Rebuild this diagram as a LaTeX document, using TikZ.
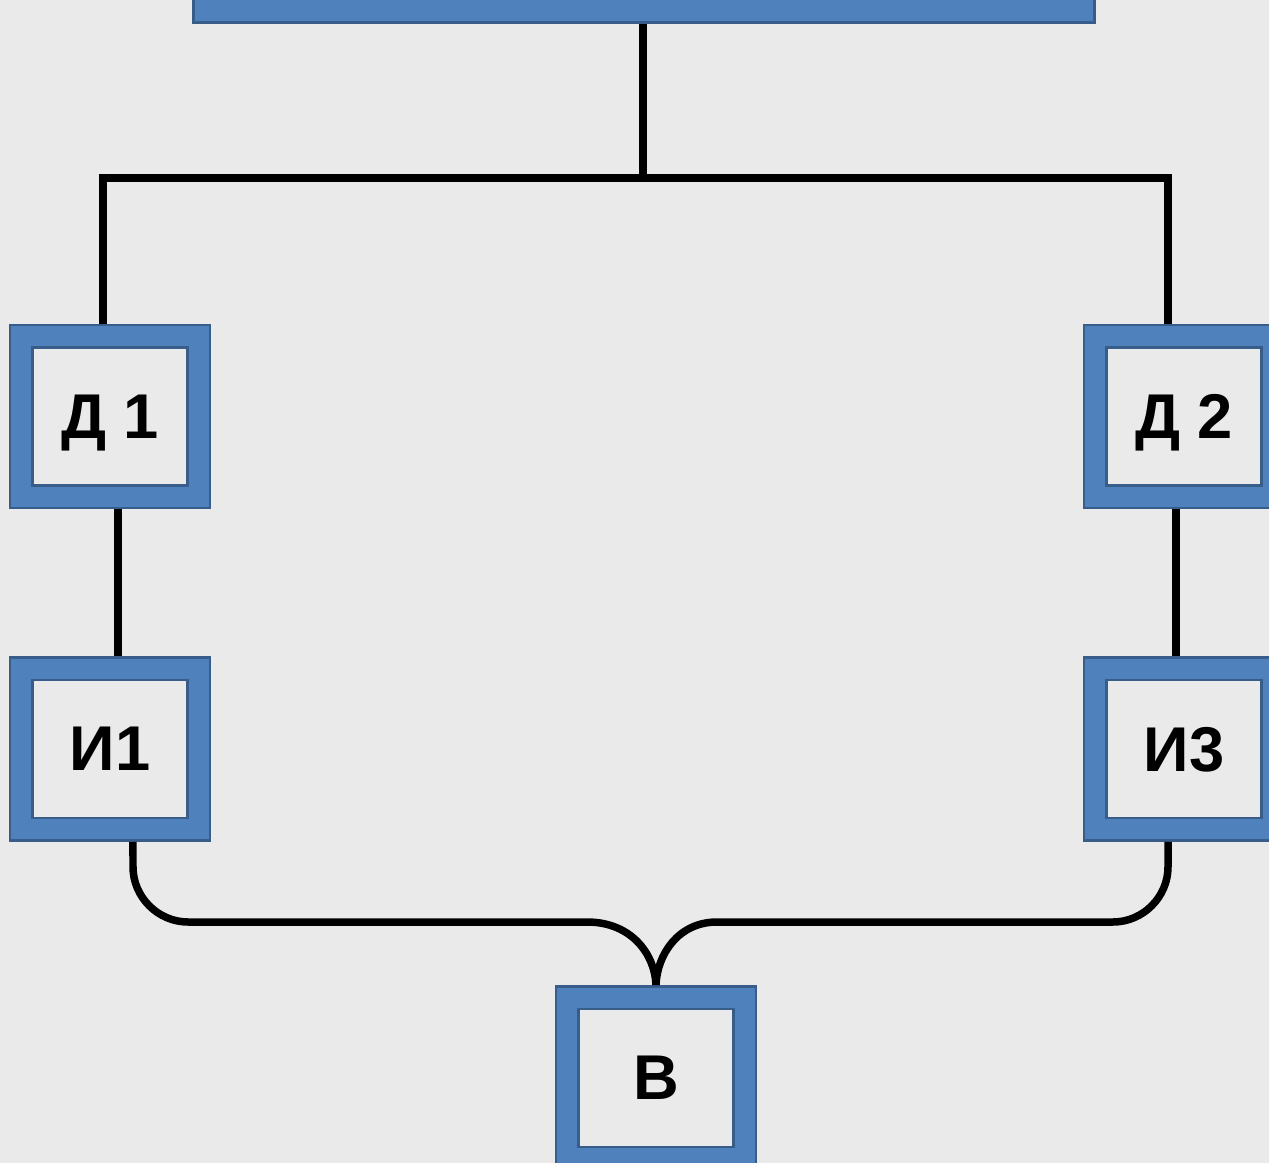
\documentclass[tikz,border=0pt]{standalone}
\usepackage{fontspec}
\setmainfont{Liberation Sans}
\usetikzlibrary{positioning}
\definecolor{boxblue}{HTML}{4F81BD}
\definecolor{boxedge}{HTML}{385D8A}
\definecolor{paper}{HTML}{EAEAEA}
\tikzset{
    frame box/.style={rectangle, draw=boxblue, line width=0.40cm,
        preaction={draw=boxedge, line width=0.50cm},
        minimum width=3.56cm, minimum height=3.22cm, inner sep=0pt, outer sep=0.25cm,
        text depth=0pt, font=\fontsize{36}{40}\selectfont\bfseries},
    head box/.style={rectangle, fill=boxblue, draw=boxedge, line width=0.06cm,
        minimum width=18.04cm, minimum height=1.72cm, outer sep=0.03cm},
    wire/.style={draw, black, line width=0.15cm}
}
\begin{document}
\begin{tikzpicture}[x=0.02cm, y=-0.02cm]
	\useasboundingbox (0,0) rectangle (1269,1163);
	\clip (0,0) rectangle (1269,1163);
	\fill[paper] (0,0) rectangle (1269,1163);

	% boxes
	\node[head box] (head) at (644,-20) {};
	\node[frame box] (D1) at (110,416.5) {Д 1};
	\node[frame box] (D2) at (1184,416.5) {Д 2};
	\node[frame box] (I1) at (110,749) {И1};
	\node[frame box] (I3) at (1184,749) {И3};
	\node[frame box] (V) at (656,1078) {В};
	\coordinate (split) at (643,178);

	% connectors
	\draw[wire] (head.south -| split) -- (split);
	\draw[wire] ([xshift=-0.14cm]D1.north) |- (split) -| ([xshift=-0.32cm]D2.north);
	\draw[wire] ([xshift=0.16cm]D1.south) -- ([xshift=0.16cm]I1.north);
	\draw[wire] ([xshift=-0.16cm]D2.south) -- ([xshift=-0.16cm]I3.north);
	\draw[wire] ([xshift=0.46cm]I1.south) -- (133,867) .. controls (133,897) and (158,922) .. (188,922)
		-- (587,922) .. controls (632,922) and (655,955) .. (V.north);
	\draw[wire] ([xshift=-0.32cm]I3.south) -- (1168,867) .. controls (1168,897) and (1143,922) .. (1113,922)
		-- (717,922) .. controls (678,922) and (657,955) .. (V.north);
\end{tikzpicture}
\end{document}
